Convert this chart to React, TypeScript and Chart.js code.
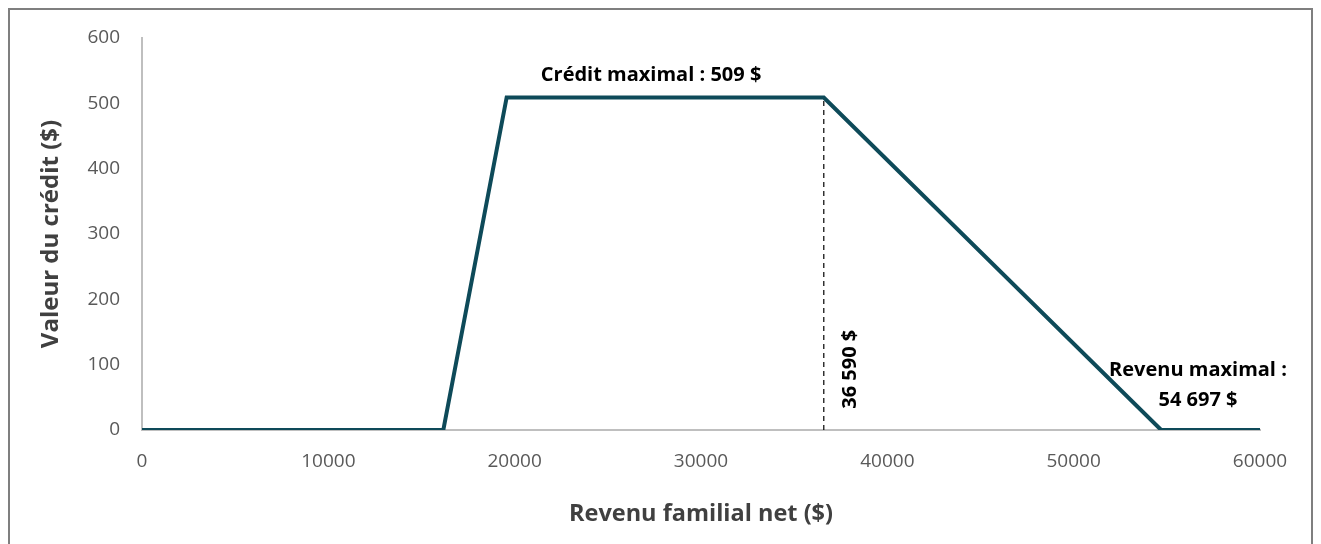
import React, { useEffect, useRef } from "react";
import { Chart, registerables } from "chart.js";

Chart.register(...registerables);

const incomes = [0, 16170, 19570, 36590, 54697, 60000];
const credits = [0, 0, 509, 509, 0, 0];
const thresholdIncome = 36590;
const maxCredit = 509;
const xTicks = [0, 10000, 20000, 30000, 40000, 50000, 60000];
const yTicks = [0, 100, 200, 300, 400, 500, 600];

const FONT = "'Open Sans', 'DejaVu Sans', sans-serif";

const annotationPlugin = {
  id: "annots",
  afterDatasetsDraw(chart: any) {
    const { ctx, scales } = chart;
    const x = scales.x;
    const y = scales.y;
    ctx.save();
    ctx.fillStyle = "#000000";
    ctx.font = `bold 20px ${FONT}`;
    ctx.textAlign = "center";
    ctx.textBaseline = "middle";
    ctx.fillText("Crédit maximal : 509 $", x.getPixelForValue(27320), y.getPixelForValue(maxCredit) - 22);
    ctx.fillText("Revenu maximal :", x.getPixelForValue(56670), y.getPixelForValue(91));
    ctx.fillText("54 697 $", x.getPixelForValue(56670), y.getPixelForValue(45));
    ctx.save();
    ctx.translate(x.getPixelForValue(38000), y.getPixelForValue(93));
    ctx.rotate(-Math.PI / 2);
    ctx.fillText("36 590 $", 0, 0);
    ctx.restore();
    ctx.restore();
  },
};

export default function App() {
  const ref = useRef<HTMLCanvasElement>(null);
  useEffect(() => {
    if (!ref.current) return;
    const chart = new Chart(ref.current, {
      type: "line",
      data: {
        datasets: [
          {
            data: incomes.map((v, i) => ({ x: v, y: credits[i] })),
            borderColor: "#0e4a59",
            borderWidth: 4,
            pointRadius: 0,
            tension: 0,
          },
          {
            data: [
              { x: thresholdIncome, y: 0 },
              { x: thresholdIncome, y: maxCredit },
            ],
            borderColor: "#000000",
            borderWidth: 1.2,
            borderDash: [5, 4],
            pointRadius: 0,
          },
        ],
      },
      options: {
        animation: false,
        responsive: true,
        maintainAspectRatio: false,
        layout: { padding: { top: 28, right: 51, left: 0, bottom: 0 } },
        plugins: { legend: { display: false }, tooltip: { enabled: false } },
        scales: {
          x: {
            type: "linear",
            min: 0,
            max: 60000,
            afterBuildTicks: (s: any) => {
              s.ticks = xTicks.map((v) => ({ value: v }));
            },
            afterFit: (s: any) => {
              s.height = 140;
            },
            grid: { display: false, drawTicks: false },
            border: { display: true, color: "#bfbfbf", width: 2 },
            ticks: {
              color: "#595959",
              font: { family: FONT, size: 19 },
              padding: 20,
              callback: (v: any) => String(v),
            },
            title: {
              display: true,
              text: "Revenu familial net ($)",
              color: "#404040",
              font: { family: FONT, size: 23.5, weight: "bold" },
              padding: { top: 0, bottom: 42 },
            },
          },
          y: {
            type: "linear",
            min: 0,
            max: 600,
            afterBuildTicks: (s: any) => {
              s.ticks = yTicks.map((v) => ({ value: v }));
            },
            afterFit: (s: any) => {
              s.width = 132;
              s.paddingTop = 0;
              s.paddingBottom = 0;
            },
            grid: { display: false, drawTicks: false },
            border: { display: true, color: "#bfbfbf", width: 2 },
            ticks: {
              color: "#595959",
              font: { family: FONT, size: 19 },
              padding: 22,
            },
            title: {
              display: true,
              text: "Valeur du crédit ($)",
              color: "#404040",
              font: { family: FONT, size: 24, weight: "bold" },
              padding: { top: 27, bottom: 0 },
            },
          },
        },
      },
      plugins: [annotationPlugin],
    });
    return () => chart.destroy();
  }, []);
  return (
    <div
      style={{
        border: "2px solid #7f7f7f",
        height: 560,
        position: "relative",
        background: "#ffffff",
      }}
    >
      <canvas ref={ref} />
    </div>
  );
}
